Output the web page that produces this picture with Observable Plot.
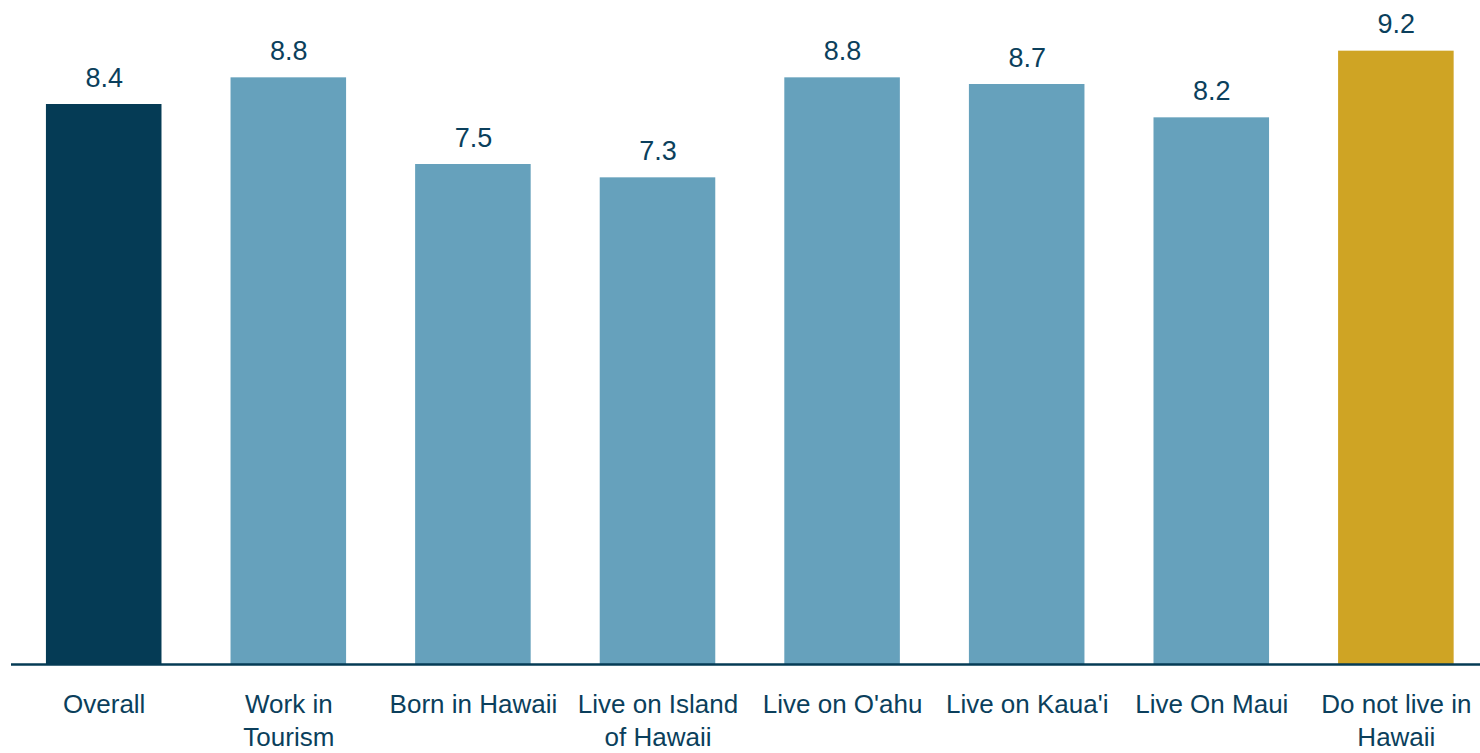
<!DOCTYPE html>
<html>
<head>
<meta charset="utf-8">
<script src="https://cdn.jsdelivr.net/npm/d3@7"></script>
<script src="https://cdn.jsdelivr.net/npm/@observablehq/plot@0.6"></script>
<style>
  html, body { margin: 0; padding: 0; background: #fff; }
  #chart svg { display: block; }
</style>
</head>
<body>
<div id="chart"></div>
<script>
const categories = ["Overall", "Work in\nTourism", "Born in Hawaii", "Live on Island\nof Hawaii", "Live on O'ahu", "Live on Kaua'i", "Live On Maui", "Do not live in\nHawaii"];
const values = [8.4, 8.8, 7.5, 7.3, 8.8, 8.7, 8.2, 9.2];
const groups = ["overall", "sub", "sub", "sub", "sub", "sub", "sub", "outside"];
const valueLabels = ["8.4", "8.8", "7.5", "7.3", "8.8", "8.7", "8.2", "9.2"];

const data = categories.map((c, i) => ({category: c, value: values[i], group: groups[i], label: valueLabels[i]}));

const textColor = "#0b3f5c";
const font = "'Liberation Sans', Arial, sans-serif";

const chart = Plot.plot({
  width: 1480,
  height: 753,
  marginTop: 0,
  marginBottom: 89,
  marginLeft: 11,
  marginRight: 0,
  style: {fontFamily: font, fontSize: "26px", color: textColor, background: "#fff", overflow: "visible"},
  x: {domain: categories, paddingInner: 0.374, paddingOuter: 0.166, align: 0.57, round: false, label: null},
  y: {domain: [0, 9.96], axis: null},
  color: {domain: ["overall", "sub", "outside"], range: ["#053b55", "#66a1bc", "#cfa424"]},
  marks: [
    Plot.barY(data, {x: "category", y: "value", fill: "group"}),
    Plot.text(data, {x: "category", y: "value", text: "label", lineAnchor: "bottom", dy: -18, fill: textColor, fontSize: 27}),
    Plot.ruleY([0], {stroke: "#053b55", strokeWidth: 2.6}),
    Plot.axisX({tickSize: 0, tickPadding: 24, fontSize: 26, lineHeight: 1.3, fill: textColor, label: null})
  ]
});
document.getElementById("chart").appendChild(chart);
</script>
</body>
</html>
